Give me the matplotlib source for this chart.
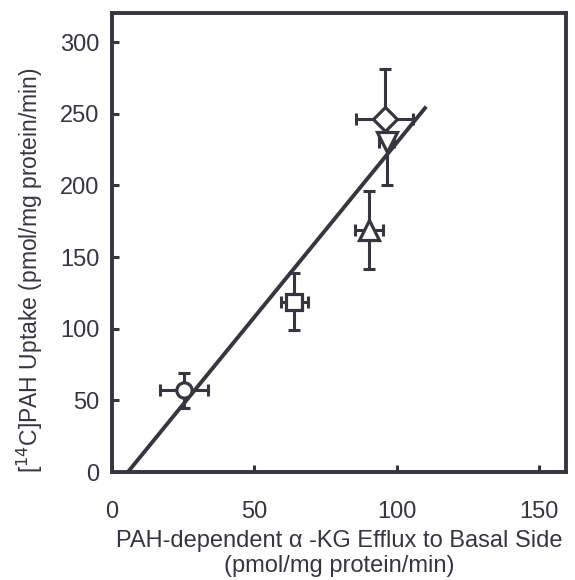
import numpy as np
import matplotlib.pyplot as plt

plt.rcParams['font.family'] = ['Liberation Sans', 'DejaVu Sans']

# data
efflux = [25.3, 64.1, 90.3, 95.8, 96.5]
efflux_err = [8.3, 4.8, 4.9, 9.9, 2.5]
uptake = [57, 119, 169, 246, 230]
uptake_err_lo = [12, 20, 27, 14, 30]
uptake_err_hi = [12, 20, 27, 35, 16]
markers = ['o', 's', '^', 'D', 'v']

# regression line
line_x = [5.5, 110]
slope = 2.43
intercept = -13.4

ink = '#36363e'
sizes = {'o': 11, 's': 11, '^': 14, 'v': 15, 'D': 12}

fig = plt.figure(figsize=(5.75, 5.8), dpi=100)
ax = fig.add_axes([0.195, 0.186, 0.789, 0.791])

xs = np.array(line_x)
ax.plot(xs, slope * xs + intercept, color=ink, lw=2.8, zorder=2)

for x, xe, y, lo, hi, m in zip(efflux, efflux_err, uptake, uptake_err_lo,
                               uptake_err_hi, markers):
    ax.errorbar(x, y, xerr=xe, yerr=[[lo], [hi]], fmt='none', ecolor=ink,
                elinewidth=2.2, capsize=4, capthick=2.2, zorder=3)
    ax.plot(x, y, marker=m, ms=sizes[m], mfc='white', mec=ink, mew=2.3, zorder=4)

ax.set_xlim(0, 159.5)
ax.set_ylim(0, 320)
ax.set_xticks([0, 50, 100, 150])
ax.set_yticks([0, 50, 100, 150, 200, 250, 300])
ax.tick_params(direction='in', length=5, width=2.2, color=ink, labelcolor=ink,
               labelsize=17)
ax.tick_params(axis='x', pad=21)
ax.tick_params(axis='y', pad=9)
for s in ax.spines.values():
    s.set_linewidth(2.8)
    s.set_color(ink)

ax.set_xlabel('PAH-dependent \u03b1 -KG Efflux to Basal Side\n(pmol/mg protein/min)',
              fontsize=17, color=ink, labelpad=5, linespacing=1.15)
ax.set_ylabel('[$^{14}$C]PAH Uptake (pmol/mg protein/min)', fontsize=16.5,
              color=ink)
ax.yaxis.set_label_coords(-0.148, 0.44)

fig.savefig('out.png', dpi=100)
